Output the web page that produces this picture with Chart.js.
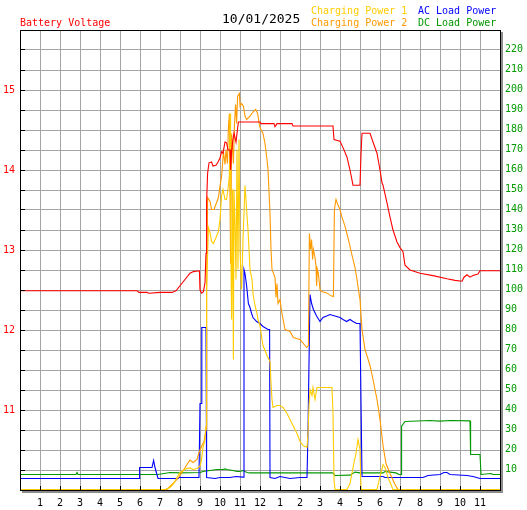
<!DOCTYPE html>
<html><head><meta charset="utf-8">
<script src="https://cdn.jsdelivr.net/npm/chart.js@4.4.1/dist/chart.umd.min.js"></script>
<style>html,body{margin:0;padding:0;background:#fff;overflow:hidden}canvas{display:block}</style>
</head><body>
<canvas id="c" width="527" height="510"></canvas>
<script>
// ---- Data (time in hours since midnight, value) ----
const dateLabel = '10/01/2025';
const seriesNames = ['Battery Voltage', 'Charging Power 1', 'Charging Power 2', 'AC Load Power', 'DC Load Power'];
const hourTicks = [0,1,2,3,4,5,6,7,8,9,10,11,12,13,14,15,16,17,18,19,20,21,22,23,24];
const hourLabels = ['', '1','2','3','4','5','6','7','8','9','10','11','12','1','2','3','4','5','6','7','8','9','10','11',''];
const voltLabelValues = [11, 12, 13, 14, 15];
const powerLabelValues = [10,20,30,40,50,60,70,80,90,100,110,120,130,140,150,160,170,180,190,200,210,220];

const batteryVoltage = [[0,12.49],[5.85,12.49],[5.95,12.47],[6.35,12.47],[6.45,12.46],[7.0,12.47],[7.6,12.47],[7.8,12.49],[8.15,12.6],[8.5,12.71],[8.67,12.73],[8.97,12.74],[9.0,12.5],[9.08,12.46],[9.17,12.48],[9.25,12.59],[9.3,12.96],[9.33,13.6],[9.38,13.96],[9.45,14.09],[9.58,14.1],[9.65,14.05],[9.8,14.06],[9.9,14.1],[10.0,14.15],[10.08,14.23],[10.15,14.21],[10.25,14.35],[10.33,14.34],[10.4,14.25],[10.5,14.25],[10.53,14.0],[10.58,14.23],[10.63,14.35],[10.7,14.46],[10.8,14.35],[10.87,14.5],[10.92,14.6],[12.0,14.6],[12.05,14.58],[12.7,14.58],[12.75,14.54],[12.85,14.58],[13.6,14.58],[13.65,14.55],[15.65,14.55],[15.7,14.38],[16.0,14.36],[16.15,14.28],[16.35,14.16],[16.5,14.0],[16.65,13.81],[17.0,13.81],[17.05,14.2],[17.1,14.46],[17.5,14.46],[17.65,14.35],[17.85,14.21],[18.0,14.0],[18.1,13.84],[18.15,13.81],[18.35,13.59],[18.5,13.41],[18.65,13.25],[18.85,13.1],[19.0,13.03],[19.15,12.98],[19.25,12.81],[19.5,12.75],[20.0,12.71],[20.65,12.68],[21.35,12.64],[21.75,12.62],[22.1,12.61],[22.2,12.66],[22.35,12.69],[22.5,12.66],[22.65,12.68],[22.9,12.7],[23.0,12.74],[24,12.74]];

const chargingPower1 = [[0,0],[7.25,0],[7.5,1],[7.65,2.5],[7.85,6],[8.0,8.5],[8.15,9.5],[8.35,10.5],[8.5,10.8],[8.65,10],[8.85,10.5],[9.0,11.7],[9.08,15],[9.13,20],[9.2,23],[9.25,25],[9.3,31.7],[9.33,100],[9.42,131],[9.5,128.5],[9.58,124],[9.67,123],[9.8,126],[9.92,129],[10.0,135],[10.08,147],[10.15,150],[10.25,145],[10.33,145],[10.42,152],[10.47,157],[10.5,188],[10.53,135],[10.58,85],[10.63,150],[10.67,65],[10.7,150],[10.75,133],[10.8,105],[10.85,170],[10.9,110],[10.95,175],[11.0,120],[11.08,100],[11.15,125],[11.25,152],[11.3,145],[11.35,137],[11.4,130],[11.5,110],[11.6,105],[11.65,98],[11.75,92],[11.85,88],[11.9,85],[12.0,82],[12.1,75],[12.15,72],[12.35,67],[12.5,64],[12.55,53],[12.6,45],[12.65,41],[12.85,42],[13.0,42],[13.15,41],[13.35,38],[13.5,35],[13.65,32],[13.85,28],[14.0,24],[14.15,22],[14.35,21],[14.4,28],[14.45,42],[14.5,50],[14.6,47],[14.65,51],[14.75,45],[14.85,51],[15.6,51],[15.65,38],[15.7,5],[15.75,0],[16.35,0],[16.5,3],[16.65,11],[16.8,18],[16.9,25],[17.0,20],[17.05,0],[17.85,0],[18.0,6.5],[18.15,12.5],[18.25,11],[18.4,6],[18.65,0],[24,0]];

const chargingPower2 = [[0,0],[7.35,0],[7.5,1.5],[7.85,5],[8.1,8.5],[8.35,12.5],[8.5,14.7],[8.65,13.5],[8.85,15],[8.95,18.5],[9.1,22],[9.2,24],[9.3,30],[9.33,100],[9.38,146],[9.5,144],[9.58,140],[9.7,140],[9.83,143.5],[9.92,146],[10.0,151.7],[10.08,156.7],[10.13,163],[10.17,169],[10.25,162.5],[10.3,170],[10.37,163],[10.42,181],[10.47,188],[10.5,147],[10.53,113],[10.58,178],[10.67,163],[10.72,182],[10.78,192.5],[10.83,183],[10.88,196.7],[10.97,198],[11.0,191.7],[11.08,193],[11.17,191.7],[11.25,186.7],[11.33,185],[11.5,186.7],[11.67,189],[11.78,190],[11.88,188],[11.95,183.5],[12.0,181],[12.15,178],[12.25,173],[12.35,165],[12.4,160],[12.5,138],[12.55,120],[12.6,110],[12.75,106],[12.8,96],[12.85,103],[12.9,93],[13.0,95],[13.08,89],[13.25,80],[13.5,79],[13.67,76],[14.0,75],[14.33,71],[14.42,72],[14.47,128],[14.53,120],[14.58,125],[14.63,115],[14.67,120],[14.75,116],[14.8,111.7],[14.83,101.7],[14.87,110],[14.92,108],[14.97,103],[15.0,100],[15.08,99],[15.33,98.3],[15.58,96.7],[15.67,96.5],[15.72,140],[15.8,145],[15.92,141.7],[16.0,140],[16.08,136.7],[16.25,131.7],[16.42,125],[16.58,118],[16.75,111],[16.85,105],[16.92,100],[17.0,95],[17.1,80],[17.25,70],[17.5,62],[17.65,55],[17.85,45],[18.0,35],[18.15,22],[18.3,13],[18.5,8],[18.75,2.5],[18.9,0],[24,0]];

const acLoadPower = [[0,5.5],[5.95,5.5],[5.98,11],[6.6,11],[6.68,14.5],[6.75,11],[6.9,5.5],[7.9,5.5],[7.95,6],[8.95,6],[9.0,43],[9.08,43],[9.09,81],[9.3,81],[9.33,6],[9.75,5.5],[10.0,6],[10.5,6],[10.8,6.5],[11.15,6.2],[11.2,110],[11.25,108],[11.33,102],[11.42,93],[11.5,91],[11.58,88],[11.65,86],[11.83,84],[12.0,83],[12.15,81.5],[12.4,80],[12.48,80],[12.5,6],[12.75,5.5],[13.0,6.5],[13.5,5.5],[14.0,6],[14.35,6],[14.4,29],[14.5,97.5],[14.58,93],[14.67,90],[14.83,86.7],[15.0,84],[15.15,86],[15.33,86.7],[15.5,87.5],[15.83,86.5],[16.0,86],[16.15,85],[16.33,84],[16.5,85],[16.65,84],[16.83,83],[17.0,83],[17.05,44],[17.1,6.5],[18.15,6.5],[18.25,6],[20.15,6],[20.4,7],[21.0,7.5],[21.2,8.5],[21.35,8.5],[21.5,7.5],[22.35,7],[22.65,6.5],[23.0,5.5],[24,5.5]];

const dcLoadPower = [[0,7.5],[2.8,7.5],[2.85,8.5],[2.9,7.5],[6.9,7.5],[7.5,8.5],[8.0,8.3],[9.0,8.5],[9.15,9],[9.5,9.5],[9.85,10],[10.15,10],[10.25,10.3],[10.35,10],[10.65,9.5],[10.85,9],[11.0,9],[11.15,9.5],[11.35,8.5],[11.5,8.3],[15.65,8.3],[15.75,7.0],[16.5,7.2],[16.75,8.7],[17.0,8.3],[18.15,8.3],[18.25,9],[18.5,8.7],[18.8,8.3],[18.95,7.5],[19.05,7.5],[19.08,31.7],[19.25,34],[20.5,34.5],[21.0,34.2],[21.5,34.5],[22.5,34.3],[22.53,17.5],[23.0,17.5],[23.05,7.5],[23.55,8],[23.65,7.5],[24,7.5]];

// ---- Styling ----
const MONO = '"DejaVu Sans Mono", "Liberation Mono", monospace';
const GRID = '#a4a4a4';
const C_RED = '#ff0000', C_GOLD = '#ffcc00', C_ORANGE = '#ff9900', C_BLUE = '#0000ff', C_GREEN = '#009900';

const toXY = arr => arr.map(p => ({x: p[0], y: p[1]}));
const lineDs = (label, data, color, axis) => ({
  label, data: toXY(data), borderColor: color, backgroundColor: color,
  borderWidth: 1.1, pointRadius: 0, tension: 0, fill: false, yAxisID: axis
});

const voltTickValues = [];
for (let i = 0; i <= 23; i++) voltTickValues.push(10 + i * 0.25);

const frame = {
  id: 'frame',
  afterDatasetsDraw(chart) {
    const {ctx, chartArea: a} = chart;
    const al = v => Math.round(v - 0.5) + 0.5;
    ctx.save();
    // shadow
    ctx.fillStyle = '#8c8c8c';
    ctx.fillRect(a.right + 1, a.top + 2, 2, a.bottom - a.top + 1);
    ctx.fillRect(a.left + 2, a.bottom + 1, a.right - a.left + 1, 2);
    // border
    ctx.strokeStyle = '#000';
    ctx.lineWidth = 1;
    ctx.strokeRect(al(a.left), al(a.top), Math.round(a.right - a.left), Math.round(a.bottom - a.top));
    // inside tick marks
    ctx.beginPath();
    const yV = chart.scales.yV, xs = chart.scales.x;
    voltTickValues.forEach(v => { const y = al(yV.getPixelForValue(v)); ctx.moveTo(a.left, y); ctx.lineTo(a.left + 5, y); });
    hourTicks.forEach(h => { const x = al(xs.getPixelForValue(h)); ctx.moveTo(x, a.bottom); ctx.lineTo(x, a.bottom - 4); });
    ctx.stroke();
    ctx.restore();
  },
  afterDraw(chart) {
    const ctx = chart.ctx;
    ctx.save();
    ctx.textBaseline = 'middle';
    ctx.textAlign = 'left';
    ctx.font = '10px ' + MONO;
    ctx.fillStyle = C_RED; ctx.fillText(seriesNames[0], 20, 23.5);
    ctx.fillStyle = C_GOLD; ctx.fillText(seriesNames[1], 311, 11.5);
    ctx.fillStyle = C_ORANGE; ctx.fillText(seriesNames[2], 311, 23.5);
    ctx.fillStyle = C_BLUE; ctx.fillText(seriesNames[3], 418, 11.5);
    ctx.fillStyle = C_GREEN; ctx.fillText(seriesNames[4], 418, 23.5);
    ctx.font = '13px ' + MONO;
    ctx.fillStyle = '#000'; ctx.fillText(dateLabel, 222, 20);
    ctx.restore();
  }
};

new Chart(document.getElementById('c'), {
  type: 'line',
  data: {
    datasets: [
      lineDs(seriesNames[0], batteryVoltage, C_RED, 'yV'),
      lineDs(seriesNames[1], chargingPower1, C_GOLD, 'yP'),
      lineDs(seriesNames[2], chargingPower2, C_ORANGE, 'yP'),
      lineDs(seriesNames[3], acLoadPower, C_BLUE, 'yP'),
      lineDs(seriesNames[4], dcLoadPower, C_GREEN, 'yP')
    ]
  },
  options: {
    responsive: false, animation: false, devicePixelRatio: 1,
    layout: {padding: {top: 30, left: 0, right: 0, bottom: 0}},
    plugins: {legend: {display: false}, tooltip: {enabled: false}, title: {display: false}},
    scales: {
      x: {
        type: 'linear', min: 0, max: 24,
        afterBuildTicks: s => { s.ticks = hourTicks.map(v => ({value: v})); },
        afterFit: s => { s.height = 20; },
        ticks: {autoSkip: false, maxRotation: 0, padding: 7, color: '#000', font: {family: MONO, size: 10},
          callback: (v, i) => hourLabels[i]},
        grid: {color: GRID, lineWidth: 1, drawTicks: false},
        border: {display: false}
      },
      yV: {
        type: 'linear', position: 'left', min: 10, max: 15.75,
        afterBuildTicks: s => { s.ticks = voltTickValues.map(v => ({value: v})); },
        afterFit: s => { s.width = 20; },
        ticks: {autoSkip: false, padding: 5, color: C_RED, font: {family: MONO, size: 10},
          callback: v => voltLabelValues.includes(v) ? String(v) : ''},
        grid: {color: GRID, lineWidth: 1, drawTicks: false},
        border: {display: false}
      },
      yP: {
        type: 'linear', position: 'right', min: -0.25, max: 229.75,
        afterBuildTicks: s => { s.ticks = powerLabelValues.map(v => ({value: v})); },
        afterFit: s => { s.width = 27; },
        ticks: {autoSkip: false, padding: 5, color: C_GREEN, font: {family: MONO, size: 10},
          callback: v => String(v)},
        grid: {display: false, drawTicks: false},
        border: {display: false}
      }
    }
  },
  plugins: [frame]
});
</script>
</body></html>
